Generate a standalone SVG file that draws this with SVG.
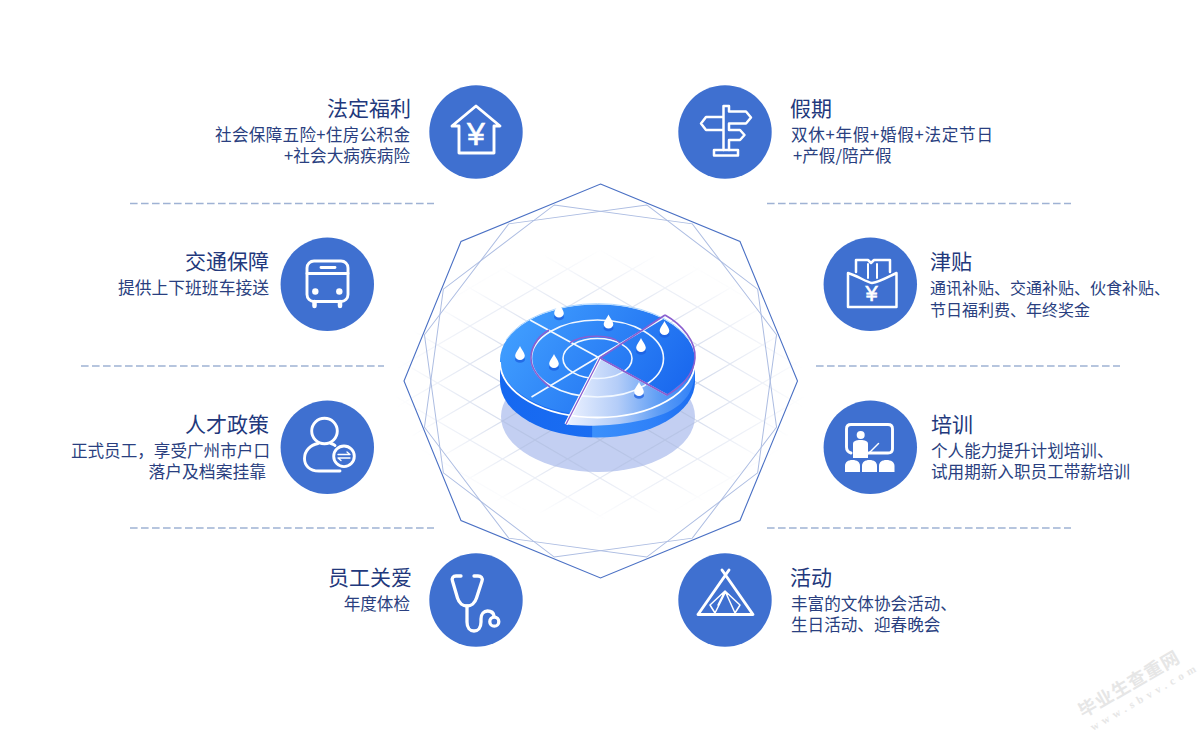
<svg xmlns="http://www.w3.org/2000/svg" width="1200" height="736" viewBox="0 0 1200 736">
<style>
.ttl{font:400 21px "Noto Sans CJK SC","Liberation Sans",sans-serif;fill:#22387c}
.bd{font:400 16.6px "Noto Sans CJK SC","Liberation Sans",sans-serif;fill:#2a3f80}
.e{text-anchor:end}
.c{fill:#3f70d0}
.i{fill:none;stroke:#fff;stroke-width:2.9;stroke-linejoin:round;stroke-linecap:round}
.f{fill:#fff;stroke:none}
.y{font:400 32px "Liberation Sans",sans-serif;fill:#fff;text-anchor:middle;stroke:#fff;stroke-width:.6}
.dv{stroke:#9fb2d4;stroke-width:1.3;stroke-dasharray:7.6 3.4;fill:none}
.oct2{fill:none;stroke:#adbde2;stroke-width:1}
.ring{fill:none;stroke:#f2f8ff;stroke-width:1.6}
.pu{fill:none;stroke:#8a5fd0;stroke-width:1.6}
.wm{font-family:"Liberation Serif","Noto Sans CJK SC",serif;fill:#e6e6e6}
</style>
<defs>
<pattern id="gridP" patternUnits="userSpaceOnUse" x="600" y="288" width="65" height="38">
<path d="M0,0L65,38M0,38L65,0" stroke="#aebcdc" stroke-width="1.100" fill="none"/>
</pattern>
<radialGradient id="fade" gradientUnits="userSpaceOnUse" cx="600" cy="385" r="205" gradientTransform="translate(600 385) scale(1 .66) translate(-600 -385)">
<stop offset=".3" stop-color="#fff" stop-opacity=".8"/>
<stop offset=".7" stop-color="#fff" stop-opacity=".3"/>
<stop offset="1" stop-color="#fff" stop-opacity="0"/>
</radialGradient>
<mask id="gridM" maskUnits="userSpaceOnUse" x="380" y="220" width="440" height="320">
<rect x="380" y="220" width="440" height="320" fill="url(#fade)"/>
</mask>
<linearGradient id="side" x1="0" x2="1" y1="0" y2="0">
<stop offset="0" stop-color="#1668f0"/>
<stop offset=".47" stop-color="#1a6df2"/>
<stop offset=".475" stop-color="#3b90fb"/>
<stop offset=".8" stop-color="#2e80f8"/>
<stop offset="1" stop-color="#1b6cf0"/>
</linearGradient>
<linearGradient id="top" x1="0" x2="1" y1=".2" y2=".6">
<stop offset="0" stop-color="#42a0ff"/>
<stop offset="1" stop-color="#1a68ee"/>
</linearGradient>
<linearGradient id="wedge" gradientUnits="userSpaceOnUse" x1="566" y1="400" x2="695" y2="400">
<stop offset="0" stop-color="#eef3ff"/>
<stop offset=".4" stop-color="#b4cdf8"/>
<stop offset=".72" stop-color="#5f9ef5"/>
<stop offset="1" stop-color="#2f80f8"/>
</linearGradient>
<g id="drop">
<ellipse cx="0" cy="5.500" rx="5" ry="3.300" fill="#1c5fe0" opacity=".75"/>
<path d="M0,-8C1.400,-4.500 4.800,-1.200 4.800,1.800A4.800,4.200 0 0 1 -4.800,1.800C-4.800,-1.200 -1.400,-4.500 0,-8Z" fill="#fff"/>
</g>
<polygon id="oct" points="0,-182 128.700,-128.700 182,0 128.700,128.700 0,182 -128.700,128.700 -182,0 -128.700,-128.700"/>
</defs>
<rect width="1200" height="736" fill="#fff"/>

<g id="center">
<polygon points="600.500,184 740,241.500 797.500,381 740,520.500 600.500,578 461,520.500 404,381 461,241.500" fill="none" stroke="#4a70c4" stroke-width="1.100"/>
<use href="#oct" class="oct2" transform="translate(600.500 381) rotate(14.700)"/>
<use href="#oct" class="oct2" transform="translate(600.500 381) rotate(-14.700)"/>
<ellipse cx="598" cy="416.500" rx="97" ry="55.500" fill="#c3cff2"/>
<rect x="380" y="220" width="440" height="320" fill="url(#gridP)" mask="url(#gridM)"/>
<path d="M500,360V382A97.500,55.500 0 0 0 695,382V360Z" fill="url(#side)"/>
<ellipse cx="597.500" cy="360" rx="97.500" ry="55.500" fill="url(#top)"/>
<path d="M600,358L566,424.300C590,428 640,425 668,412C684,404 694,392 695,372L667,395Z" fill="url(#wedge)"/>
<ellipse class="ring" cx="597.500" cy="358.500" rx="34.500" ry="20"/>
<ellipse class="ring" cx="597.500" cy="358.500" rx="66" ry="38.500"/>
<path d="M530,320L667,395M531.500,397L665,317" stroke="#f2f8ff" stroke-width="1.600" fill="none"/>
<path d="M500,362A97.500,55.500 0 0 0 695,362" fill="none" stroke="#fff" stroke-width="1.800"/>
<path d="M506,340A97.500,55.500 0 0 1 689,340" fill="none" stroke="#a9d4ff" stroke-width="1"/>
<path class="pu" d="M665,315C683,325 696,342 695,358C694,375 680,388 667,395L600,358L665,315"/>
<path class="pu" d="M549,330C535,338 531,350 531,358C531,368 538,378 550,387"/>
<path class="pu" d="M570,343C580,335 610,333 620,343"/>
<path d="M600,358L566,424.300" stroke="#fff" stroke-width="3.400" fill="none"/>
<path d="M600,358L566,424.300M600,358L667,395" stroke="#8a5fd0" stroke-width="1.300" fill="none"/>
<use href="#drop" x="559" y="311.500"/>
<use href="#drop" x="608.500" y="322.500"/>
<use href="#drop" x="664.500" y="329"/>
<use href="#drop" x="641" y="346"/>
<use href="#drop" x="520" y="354"/>
<use href="#drop" x="554" y="362"/>
<use href="#drop" x="639" y="390"/>
</g>

<g id="connectors">
<path class="dv" d="M130,203.500H434"/>
<path class="dv" d="M767,203.500H1071"/>
<path class="dv" d="M81,366H384"/>
<path class="dv" d="M816,366H1120"/>
<path class="dv" d="M130,528H434"/>
<path class="dv" d="M767,528H1071"/>
</g>

<g id="node-legal">
<circle class="c" cx="476" cy="132" r="46.700"/>
<path class="i" d="M459,126V153H494V126H500L476,106L452,126Z"/>
<text class="y" x="476" y="145">¥</text>
<text class="ttl e" x="411" y="116">法定福利</text>
<text class="bd e" x="410" y="141" textLength="195" lengthAdjust="spacing">社会保障五险+住房公积金</text>
<text class="bd e" x="410" y="162" textLength="126" lengthAdjust="spacing">+社会大病疾病险</text>
</g>

<g id="node-holiday">
<circle class="c" cx="725" cy="132" r="46.700"/>
<path class="i" style="stroke-width:2.500" d="M723.500,117V106H729V111.500H746L751,117.500L746,123.500H729V130H740L744.500,135L740,140H729V150M723.500,150V130H706L701,123.500L706,117H723.500Z"/>
<rect class="i" style="stroke-width:2.500" x="714" y="150" width="24" height="5.500"/>
<text class="ttl" x="790" y="116">假期</text>
<text class="bd" x="791" y="141" textLength="202" lengthAdjust="spacing">双休+年假+婚假+法定节日</text>
<text class="bd" x="793" y="162">+产假/陪产假</text>
</g>

<g id="node-transport">
<circle class="c" cx="327.300" cy="284.300" r="46.700"/>
<rect class="i" x="307" y="261" width="41" height="40.500" rx="7"/>
<path class="i" d="M307,273.500H348M321,267.500H335"/>
<circle class="f" cx="315.300" cy="291.500" r="3.200"/>
<circle class="f" cx="339.300" cy="291.500" r="3.200"/>
<path class="i" d="M314.500,302V306M340,302V306" style="stroke-width:4.500"/>
<text class="ttl e" x="269" y="269">交通保障</text>
<text class="bd e" x="269" y="294" style="font-size:16.800px">提供上下班班车接送</text>
</g>

<g id="node-allowance">
<circle class="c" cx="870.300" cy="284.300" r="46.700"/>
<path class="i" style="stroke-width:2.500" d="M856,272V260H868L871,263L874,260H890V272"/>
<path class="i" style="stroke-width:2.500" d="M848,273C858,276 866,282 872,283C880,282 888,277 896.500,273V307H848Z"/>
<path class="i" d="M868,264V278M877,264V278" style="stroke-width:2"/>
<text class="y" x="871.500" y="300.500" style="font-size:22px">¥</text>
<text class="ttl" x="930" y="269">津贴</text>
<text class="bd" x="930" y="294" style="font-size:16px">通讯补贴、交通补贴、伙食补贴、</text>
<text class="bd" x="930" y="316" style="font-size:16px">节日福利费、年终奖金</text>
</g>

<g id="node-talent">
<circle class="c" cx="327.300" cy="447.300" r="46.700"/>
<circle class="i" cx="324.500" cy="431" r="12.800"/>
<path class="i" d="M340,471H319C309,471 304.500,465 304.500,458.500C304.500,451 310,445 318,443.500M331,443.500C333,444 334,444.500 335,445.500"/>
<circle class="i" cx="344" cy="456.300" r="10.300"/>
<path class="i" style="stroke-width:1.300" d="M338,454.500H350L347,452M350,458H338L341,460.500"/>
<text class="ttl e" x="269" y="432">人才政策</text>
<text class="bd e" x="270" y="457">正式员工，享受广州市户口</text>
<text class="bd e" x="266" y="478" style="font-size:16.800px">落户及档案挂靠</text>
</g>

<g id="node-training">
<circle class="c" cx="870.300" cy="447.300" r="46.700"/>
<path class="i" d="M851,453C848,452 846.500,450 846.500,447V429C846.500,426 848,424.500 851,424.500H888C891,424.500 892.500,426 892.500,429V449C892.500,452 891,453 888,453H869"/>
<circle class="f" cx="860.700" cy="435" r="4"/>
<path class="f" d="M853,444C853,441 856,440 860.500,440C865,440 868,441 868,444V458H853Z"/>
<path class="i" style="stroke-width:1.500" d="M868,454L878.500,443.500"/>
<path class="f" d="M845,472V466C845,462 848,460 852.500,460C857,460 860,462 860,466V472Z"/>
<path class="f" d="M862,472V466C862,462 865,460 869.500,460C874,460 877,462 877,466V472Z"/>
<path class="f" d="M879,472V466C879,462 882,460 886.500,460C891,460 894.500,462 894.500,466V472Z"/>
<text class="ttl" x="931" y="432">培训</text>
<text class="bd" x="931" y="457">个人能力提升计划培训、</text>
<text class="bd" x="931" y="478">试用期新入职员工带薪培训</text>
</g>

<g id="node-care">
<circle class="c" cx="476" cy="600" r="46.700"/>
<path class="i" style="stroke-width:3.300" d="M461,576H456C453,576 451.500,578 452.500,581L457.500,598C459,603 463,606 467,606C471,606 475,603 476.500,598L482,581C483,578 481,576 478,576H474"/>
<path class="i" style="stroke-width:3.300" d="M467,606V622C467,628 470,631 474,631C478,631 481,628 481,622V619C481,614 484,611 487.500,611C491,611 493.500,613 494,616"/>
<circle class="i" style="stroke-width:3.300" cx="494.300" cy="621.700" r="4.500"/>
<text class="ttl e" x="412" y="585">员工关爱</text>
<text class="bd e" x="410" y="610">年度体检</text>
</g>

<g id="node-activity">
<circle class="c" cx="725" cy="600" r="46.700"/>
<path class="i" d="M698,614.500H753L722,570M698,614.500L729,570"/>
<path class="i" style="stroke-width:1.500" d="M710,605L725,591L740,605L735,613M710,605L715,613M715,613L725.500,592M735,613L725.500,592M725,591L718,605"/>
<text class="ttl" x="790" y="585">活动</text>
<text class="bd" x="791" y="610">丰富的文体协会活动、</text>
<text class="bd" x="791" y="631">生日活动、迎春晚会</text>
</g>

<g id="watermark">
<text class="wm" transform="translate(1083 718) rotate(-30)" font-size="18" font-weight="700" letter-spacing="1">毕业生查重网</text>
<text class="wm" transform="translate(1093 731) rotate(-30)" font-size="11" font-weight="700" letter-spacing="4.600">www.sbvv.com</text>
</g>
</svg>
